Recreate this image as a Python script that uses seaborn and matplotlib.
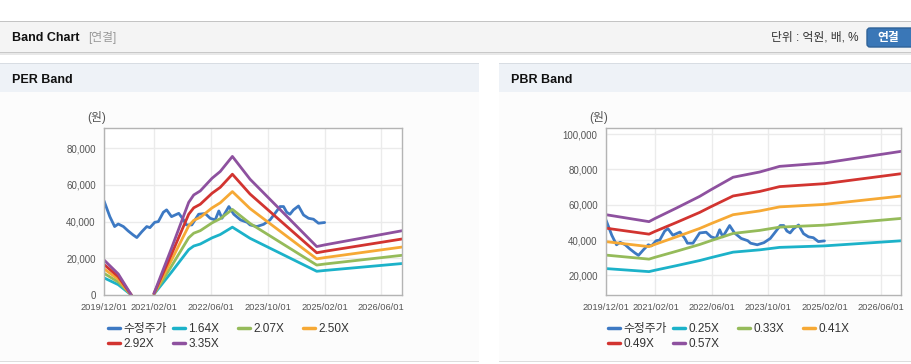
import matplotlib

matplotlib.use("Agg")

import matplotlib.pyplot as plt
import pandas as pd
import seaborn as sns
from matplotlib.lines import Line2D
from matplotlib.patches import FancyBboxPatch, Rectangle
from matplotlib.ticker import StrMethodFormatter
from matplotlib.transforms import IdentityTransform

W, H = 912, 364

# adjusted share price (shared by both charts)
PRICE_LABEL = "수정주가"
PRICE_DATES = [
    "2019-12-01", "2020-01-20", "2020-03-01", "2020-04-01", "2020-05-15", "2020-06-25",
    "2020-08-07", "2020-09-07", "2020-10-20", "2020-12-01", "2020-12-28", "2021-02-07",
    "2021-03-10", "2021-04-22", "2021-05-20", "2021-07-01", "2021-09-01", "2021-10-13",
    "2021-11-04", "2021-12-22", "2022-02-18", "2022-04-15", "2022-05-28", "2022-07-10",
    "2022-08-10", "2022-09-06", "2022-11-04", "2022-12-16", "2023-02-12", "2023-04-10",
    "2023-05-04", "2023-07-01", "2023-08-28", "2023-10-22", "2023-12-04", "2024-01-16",
    "2024-02-15", "2024-03-13", "2024-04-10", "2024-05-10", "2024-06-22", "2024-08-04",
    "2024-09-16", "2024-10-28", "2024-12-10", "2025-02-01",
]
PRICE_VALUES = [
    51300, 42700, 37300, 38700, 37300, 34900,
    32700, 31300, 34500, 37300, 36700, 39600,
    40000, 45100, 46400, 42700, 44500, 40900,
    38200, 38200, 44000, 44400, 41800, 40900,
    45800, 41800, 48200, 44000, 40900, 39600,
    38200, 37300, 38500, 40900, 44500, 48200,
    48200, 45100, 44000, 46400, 48500, 43600,
    41800, 41300, 39100, 39500,
]

# PER band: EPS knots, segment id breaks the line where EPS was negative
PER_DATES = [
    "2019-12-01", "2020-04-01", "2020-07-22",
    "2021-02-01", "2021-07-01", "2021-11-25", "2022-01-07", "2022-03-04", "2022-06-13",
    "2022-08-22", "2022-12-04", "2023-05-04", "2024-11-25", "2025-02-01", "2026-11-25",
]
PER_EPS = [
    5700, 3430, 0,
    270, 7610, 15070, 16270, 16930, 18990,
    20090, 22540, 18840, 7880, 8150, 10450,
]
PER_SEGMENT = [0, 0, 0, 1, 1, 1, 1, 1, 1, 1, 1, 1, 1, 1, 1]
PER_MULTIPLES = [1.64, 2.07, 2.50, 2.92, 3.35]

# PBR band: BPS knots
PBR_DATES = [
    "2019-12-01", "2020-12-07", "2021-01-25", "2021-08-01", "2022-02-18", "2022-05-28",
    "2022-12-04", "2023-07-22", "2023-10-01", "2024-01-10", "2025-02-01", "2026-11-25",
]
PBR_BPS = [
    95300, 88400, 91400, 101900, 113500, 120200,
    132500, 137700, 140000, 143300, 146700, 158200,
]
PBR_SEGMENT = [0] * len(PBR_DATES)
PBR_MULTIPLES = [0.25, 0.33, 0.41, 0.49, 0.57]

X_TICKS = ["2019-12-01", "2021-02-01", "2022-06-01", "2023-10-01", "2025-02-01", "2026-06-01"]
X_TICK_LABELS = ["2019/12/01", "2021/02/01", "2022/06/01", "2023/10/01", "2025/02/01", "2026/06/01"]
X_RANGE = ("2019-12-01", "2026-11-25")

PRICE_COLOR = "#3d79c3"
BAND_COLORS = ["#1cb2c9", "#95bb5a", "#f6a935", "#d23430", "#8e519f"]
TICK_COLOR = "#555555"
FONTS = ["Liberation Sans", "Noto Sans CJK KR", "DejaVu Sans"]


def fx(x):
    return x / W


def fy(y):
    return 1 - y / H


def rect(fig, x, y, w, h, color, z=-5):
    fig.add_artist(Rectangle((x, H - y - h), w, h, transform=IdentityTransform(),
                             facecolor=color, edgecolor="none", zorder=z))


def band_frame(dates, base, segments, multiples):
    rows = []
    for mult in multiples:
        for d, b, s in zip(dates, base, segments):
            rows.append({"date": pd.Timestamp(d), "value": b * mult,
                         "band": f"{mult:.2f}X", "segment": s})
    return pd.DataFrame(rows)


def draw_chart(fig, left, right, top, bottom, bands, ylim, yticks, labels, legend_x):
    ax = fig.add_axes([fx(left), fy(bottom), fx(right - left), (bottom - top) / H])
    ax.set_facecolor("white")

    price_df = pd.DataFrame({"date": pd.to_datetime(PRICE_DATES), "value": PRICE_VALUES})
    sns.lineplot(data=price_df, x="date", y="value", color=PRICE_COLOR, lw=2, ax=ax)
    sns.lineplot(data=bands, x="date", y="value", hue="band", units="segment",
                 estimator=None, palette=BAND_COLORS, lw=2, ax=ax, legend=False)

    ax.set_xlim(pd.Timestamp(X_RANGE[0]), pd.Timestamp(X_RANGE[1]))
    ax.set_ylim(*ylim)
    ax.set_xticks(pd.to_datetime(X_TICKS))
    ax.set_xticklabels(X_TICK_LABELS)
    ax.set_yticks(yticks)
    ax.yaxis.set_major_formatter(StrMethodFormatter("{x:,.0f}"))
    ax.set_xlabel("")
    ax.set_ylabel("")
    ax.grid(True, color="#ebebeb", lw=1)
    ax.set_axisbelow(True)
    for spine in ax.spines.values():
        spine.set_color("#b4b4b4")
        spine.set_linewidth(1)
    ax.tick_params(axis="both", length=4, width=1, color="#b4b4b4",
                   labelsize=7, labelcolor=TICK_COLOR, pad=2)
    ax.tick_params(axis="x", labelsize=6.7)

    fig.text(fx(left - 17), fy(117), "(원)", fontsize=8.5, color=TICK_COLOR,
             ha="left", va="center")

    handles = [Line2D([], [], color=PRICE_COLOR, lw=2.5)]
    handles += [Line2D([], [], color=c, lw=2.5) for c in BAND_COLORS]
    names = [PRICE_LABEL] + labels
    for col in range(4):
        col_handles = handles[col::4]
        col_names = names[col::4]
        fig.legend(col_handles, col_names, loc="upper left",
                   bbox_to_anchor=(fx(legend_x + 65 * col), fy(323)),
                   frameon=False, fontsize=8.5, handlelength=1.0, handletextpad=0.3,
                   labelspacing=0.25, borderpad=0, borderaxespad=0,
                   labelcolor="#333333")
    return ax


def main():
    sns.set_style("white")
    plt.rcParams["font.family"] = FONTS

    fig = plt.figure(figsize=(W / 100, H / 100), dpi=100)
    fig.patch.set_facecolor("white")

    # page header
    rect(fig, 0, 21, W, 1, "#c4c4c4")
    rect(fig, 0, 22, W, 30, "#f4f4f4")
    rect(fig, 0, 52, W, 1, "#c8c8c8")
    rect(fig, 0, 53, W, 2, "#e8e8e8")
    fig.text(fx(12), fy(38), "Band Chart", fontsize=9, fontweight="bold",
             color="#111111", va="center")
    fig.text(fx(88), fy(38), "[연결]", fontsize=8.5, color="#999999", va="center")
    fig.text(fx(859), fy(38), "단위 : 억원, 배, %", fontsize=8.5, color="#333333",
             ha="right", va="center")
    fig.add_artist(FancyBboxPatch((867, H - 47), 60, 19, transform=IdentityTransform(),
                                  boxstyle="round,pad=0,rounding_size=3",
                                  facecolor="#3a77b7", edgecolor="#2f6298", zorder=-4))
    fig.text(fx(888), fy(38), "연결", fontsize=8.5, fontweight="bold", color="white",
             ha="center", va="center")

    # panels
    for x0, x1, title in [(0, 479, "PER Band"), (499, W, "PBR Band")]:
        rect(fig, x0, 63, x1 - x0, 1, "#d8dde3")
        rect(fig, x0, 64, x1 - x0, 28, "#eef2f7")
        rect(fig, x0, 92, x1 - x0, 269, "#fcfcfc")
        rect(fig, x0, 361, x1 - x0, 1, "#dddddd")
        fig.text(fx(x0 + 12), fy(80), title, fontsize=9, fontweight="bold",
                 color="#111111", va="center")

    per_bands = band_frame(PER_DATES, PER_EPS, PER_SEGMENT, PER_MULTIPLES)
    draw_chart(fig, 104, 402, 128, 295, per_bands, (0, 91000),
               [0, 20000, 40000, 60000, 80000],
               [f"{m:.2f}X" for m in PER_MULTIPLES], 108)

    pbr_bands = band_frame(PBR_DATES, PBR_BPS, PBR_SEGMENT, PBR_MULTIPLES)
    draw_chart(fig, 606, 901, 128, 295, pbr_bands, (8870, 103400),
               [20000, 40000, 60000, 80000, 100000],
               [f"{m:.2f}X" for m in PBR_MULTIPLES], 608)

    fig.savefig("out.png", dpi=100)


if __name__ == "__main__":
    main()
